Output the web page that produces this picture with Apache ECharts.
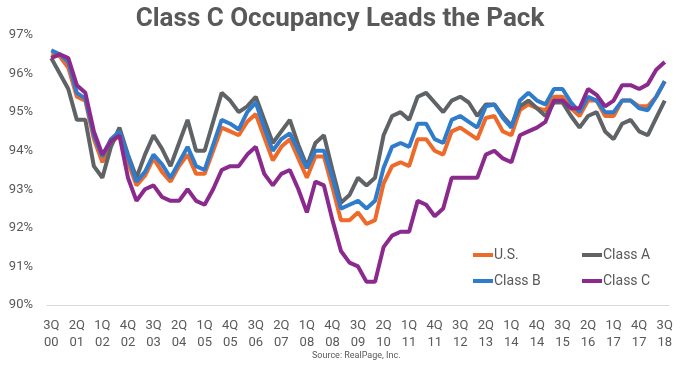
<!DOCTYPE html>
<html>
<head>
<meta charset="utf-8">
<script src="https://cdn.jsdelivr.net/npm/echarts@6/dist/echarts.min.js"></script>
<style>
html,body{margin:0;padding:0;background:#fff;}
#chart{width:680px;height:365px;}
</style>
</head>
<body>
<div id="chart"></div>
<script>
const quarters = [
 "3Q00","4Q00","1Q01","2Q01","3Q01","4Q01","1Q02","2Q02","3Q02","4Q02",
 "1Q03","2Q03","3Q03","4Q03","1Q04","2Q04","3Q04","4Q04","1Q05","2Q05",
 "3Q05","4Q05","1Q06","2Q06","3Q06","4Q06","1Q07","2Q07","3Q07","4Q07",
 "1Q08","2Q08","3Q08","4Q08","1Q09","2Q09","3Q09","4Q09","1Q10","2Q10",
 "3Q10","4Q10","1Q11","2Q11","3Q11","4Q11","1Q12","2Q12","3Q12","4Q12",
 "1Q13","2Q13","3Q13","4Q13","1Q14","2Q14","3Q14","4Q14","1Q15","2Q15",
 "3Q15","4Q15","1Q16","2Q16","3Q16","4Q16","1Q17","2Q17","3Q17","4Q17",
 "1Q18","2Q18","3Q18"
];
const usValues = [
 96.5,96.45,96.15,95.4,95.3,94.3,93.7,94.2,94.4,93.7,
 93.1,93.35,93.8,93.45,93.2,93.6,93.9,93.4,93.4,94.0,
 94.6,94.5,94.4,94.75,94.95,94.35,93.75,94.1,94.3,93.8,
 93.3,93.85,93.85,93.05,92.2,92.2,92.4,92.1,92.2,93.15,
 93.6,93.7,93.6,94.3,94.3,94.0,93.9,94.5,94.6,94.45,
 94.3,94.85,94.9,94.5,94.4,95.05,95.2,95.1,95.05,95.4,
 95.4,95.1,94.9,95.3,95.3,94.9,94.9,95.3,95.3,95.15,
 95.15,95.4,95.8
];
const classA = [
 96.4,96.0,95.6,94.8,94.8,93.6,93.3,94.1,94.6,93.9,
 93.3,93.9,94.4,94.05,93.6,94.2,94.8,94.0,94.0,94.75,
 95.5,95.3,95.0,95.15,95.4,94.8,94.2,94.5,94.8,94.15,
 93.6,94.2,94.4,93.5,92.65,92.85,93.3,93.1,93.3,94.4,
 94.9,95.0,94.8,95.4,95.5,95.25,95.0,95.3,95.4,95.25,
 94.9,95.2,95.2,94.9,94.65,95.15,95.3,95.1,94.9,95.25,
 95.25,94.9,94.6,94.9,95.0,94.5,94.3,94.7,94.8,94.5,
 94.4,94.85,95.3
];
const classB = [
 96.6,96.5,96.3,95.5,95.35,94.4,93.85,94.3,94.5,93.85,
 93.2,93.45,93.9,93.65,93.3,93.7,94.1,93.6,93.5,94.15,
 94.8,94.7,94.55,95.0,95.25,94.6,94.0,94.3,94.45,94.0,
 93.55,94.0,94.0,93.3,92.5,92.6,92.7,92.5,92.7,93.55,
 94.1,94.2,94.1,94.7,94.7,94.3,94.2,94.8,94.9,94.75,
 94.6,95.15,95.2,94.85,94.6,95.3,95.5,95.3,95.2,95.6,
 95.6,95.25,95.0,95.4,95.3,95.0,95.0,95.3,95.3,95.1,
 95.05,95.4,95.8
];
const classC = [
 96.4,96.5,96.4,95.7,95.5,94.5,93.9,94.25,94.4,93.3,
 92.7,93.0,93.1,92.8,92.7,92.7,93.0,92.7,92.6,93.0,
 93.5,93.6,93.6,93.9,94.1,93.4,93.1,93.4,93.5,93.0,
 92.4,93.2,93.1,92.2,91.4,91.1,91.0,90.6,90.6,91.5,
 91.8,91.9,91.9,92.7,92.6,92.3,92.5,93.3,93.3,93.3,
 93.3,93.9,94.0,93.8,93.7,94.4,94.5,94.6,94.75,95.3,
 95.3,95.1,95.1,95.6,95.45,95.15,95.3,95.7,95.7,95.6,
 95.72,96.1,96.3
];
const seriesNames = ["U.S.","Class A","Class B","Class C"];
const seriesColors = ["#ee6a2a","#5f6366","#2f7bcc","#8b2a8d"];
const seriesData = [usValues, classA, classB, classC];

const chart = echarts.init(document.getElementById('chart'), null, {renderer:'canvas'});
const FONT = 'Roboto, "Noto Sans", sans-serif';
const legendPos = [[473,248],[582,248],[473,274],[582,274]];

const option = {
  animation: false,
  backgroundColor: '#ffffff',
  title: {
    text: 'Class C Occupancy Leads the Pack',
    left: 'center', top: 1,
    textStyle: {fontFamily: FONT, fontWeight: 'bold', fontSize: 26, color: '#595959'}
  },
  graphic: [{
    type: 'text', left: 312, top: 351,
    style: {text: 'Source: RealPage, Inc.', fontFamily: FONT, fontSize: 9, fill: '#595959'}
  }],
  legend: seriesNames.map((n, i) => ({
    data: [n], left: legendPos[i][0], top: legendPos[i][1],
    icon: 'rect', itemWidth: 20, itemHeight: 4,
    padding: 0,
    textStyle: {fontFamily: FONT, fontSize: 14, color: '#595959', padding: [0,0,0,-4]}
  })),
  grid: {left: 47, right: 11, top: 35, bottom: 60, containLabel: false},
  xAxis: {
    type: 'category', data: quarters, boundaryGap: true,
    axisLine: {lineStyle: {color: '#d9d9d9', width: 1}},
    axisTick: {show: false},
    axisLabel: {
      interval: 2, margin: 12, fontFamily: FONT, fontSize: 13, color: '#595959', lineHeight: 17,
      formatter: v => v.slice(0,2) + '\n' + v.slice(2)
    }
  },
  yAxis: {
    type: 'value', min: 90, max: 97, interval: 1,
    axisLine: {show: false}, axisTick: {show: false},
    splitLine: {show: false},
    axisLabel: {margin: 14, fontFamily: FONT, fontSize: 13, color: '#595959', formatter: v => v + '%'}
  },
  series: seriesNames.map((n, i) => ({
    name: n, type: 'line', data: seriesData[i],
    showSymbol: false, symbol: 'none',
    lineStyle: {color: seriesColors[i], width: 4},
    itemStyle: {color: seriesColors[i]}
  }))
};
chart.setOption(option);
</script>
</body>
</html>
